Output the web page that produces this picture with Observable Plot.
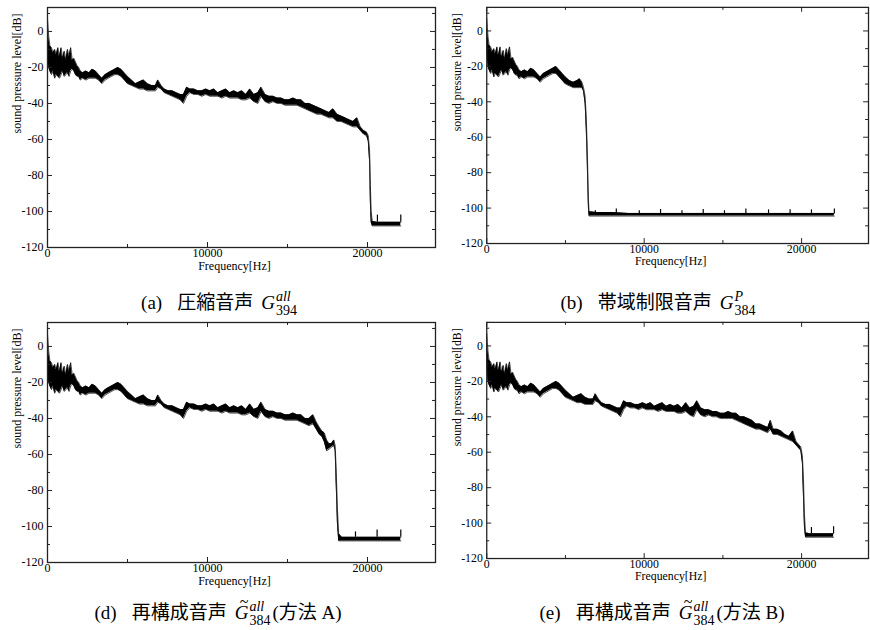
<!DOCTYPE html>
<html><head><meta charset="utf-8">
<script src="https://cdn.jsdelivr.net/npm/d3@7"></script>
<script src="https://cdn.jsdelivr.net/npm/@observablehq/plot@0.6"></script>
<style>
html,body{margin:0;padding:0;background:#fff;}
body{width:870px;height:630px;overflow:hidden;position:relative;}
.panel{position:absolute;}
.cap{position:absolute;font-family:"Liberation Serif","Noto Sans CJK JP",serif;font-size:19px;line-height:22px;white-space:nowrap;transform:translateX(-50%);color:#000;}
.jp{font-family:"Noto Sans CJK JP",sans-serif;font-size:19px;}
.g1{margin-left:15px;}
.g2{margin-left:8px;}
.ss{display:inline-block;vertical-align:-6px;font-size:14px;line-height:14px;margin-left:1px;margin-right:2px;}
.ss>span{display:block;}
.tl{position:relative;display:inline-block;}
.tl::after{content:"~";position:absolute;left:5px;top:-11px;font-size:16px;font-style:normal;}
</style>
</head><body>
<div id="pa" class="panel" style="left:0px;top:0px"></div>
<div id="pb" class="panel" style="left:440px;top:0px"></div>
<div id="pd" class="panel" style="left:0px;top:315px"></div>
<div id="pe" class="panel" style="left:440px;top:315px"></div>
<div class="cap" style="left:220px;top:290px">(a)<span class="jp g1">圧縮音声</span><i class="g2">G</i><span class="ss"><span><i>all</i></span><span>394</span></span></div>
<div class="cap" style="left:659px;top:290px">(b)<span class="jp g1">帯域制限音声</span><i class="g2">G</i><span class="ss"><span><i>P</i></span><span>384</span></span></div>
<div class="cap" style="left:218px;top:600px">(d)<span class="jp g1">再構成音声</span><span class="tl g2"><i>G</i></span><span class="ss"><span><i>all</i></span><span>384</span></span>(<span class="jp">方法</span> A)</div>
<div class="cap" style="left:662px;top:600px">(e)<span class="jp g1">再構成音声</span><span class="tl g2"><i>G</i></span><span class="ss"><span><i>all</i></span><span>384</span></span>(<span class="jp">方法</span> B)</div>
<script>
// ---- shared low-frequency part (all panels), Hz and dB envelopes ----
const freqLow = [0, 40, 80, 150, 250, 350, 450, 550, 650, 750, 850, 950, 1050, 1150, 1250, 1350, 1450, 1550, 1650, 1750, 1850, 1950, 2050, 2200, 2400, 2600, 2800, 3000, 3200, 3400, 3600, 3800, 4000, 4200, 4400];
const hiLow = [7, 2, -3, -8, -9, -12, -10, -13, -9, -14, -9, -15, -11, -16, -10, -14, -9, -16, -15, -17, -19, -20, -22, -23, -22, -23, -21, -22, -24, -26, -24, -23, -22, -21, -20];
const loLow = [-2, -15, -20, -22, -24, -22, -26, -24, -25, -26, -24, -22, -25, -24, -23, -25, -22, -21, -22, -24, -25, -25, -27, -26, -27, -26, -26, -26, -27, -29, -27, -26, -25, -24, -24];

// ---- mid part shared by (a), (d), (e) ----
const freqMid = [4600, 4800, 5000, 5250, 5500, 5750, 6000, 6250, 6500, 6750, 6900, 7100, 7300, 7550, 7800, 8050, 8300, 8500, 8700, 8900, 9150, 9400, 9650, 9900, 10150, 10400, 10650, 10900, 11150, 11400, 11650, 11900, 12150, 12400, 12650, 12900, 13150, 13350, 13600, 13850, 14100, 14350, 14600, 14850, 15100, 15350, 15600, 15850, 16100, 16350];
const hiMid = [-21, -23, -25, -27, -29, -28, -27, -29, -30, -30, -27, -30, -32, -33, -33, -34, -35, -35, -31, -32, -32, -33, -33, -32, -33, -32, -34, -33, -32, -34, -33, -34, -33, -35, -32, -35, -34, -31, -35, -36, -36, -37, -37, -38, -38, -37, -38, -38, -40, -40];
const loMid = [-25, -27, -29, -30, -31, -32, -32, -33, -33, -33, -31, -32, -34, -35, -36, -37, -38, -40, -36, -34, -35, -35, -36, -35, -36, -36, -36, -37, -36, -37, -37, -37, -38, -38, -37, -39, -40, -36, -39, -40, -39, -40, -40, -41, -41, -41, -41, -42, -43, -44];

// ---- (a) tail ----
const freqTailA = [16600, 16850, 17100, 17350, 17600, 17850, 18100, 18350, 18600, 18850, 19100, 19350, 19550, 19750, 19950, 20050, 20130, 20180, 20230, 20300, 20600, 21000, 21400, 21800, 22080];
const hiTailA = [-41, -42, -43, -44, -45, -43, -46, -47, -48, -49, -50, -48, -53, -55, -56, -58, -66, -85, -100, -105.5, -106, -106, -106, -106, -106];
const loTailA = [-45, -46, -46, -47, -48, -48, -50, -50, -51, -52, -53, -53, -55, -57, -58, -61, -72, -95, -106, -108, -108, -108, -108, -108, -108];
const spikeFreqA = [20620, 22080];
const spikeTopA = [-102, -102];
const floorA = -106;

// ---- (b) tail ----
const freqTailB = [4600, 4800, 5000, 5250, 5500, 5750, 5900, 6050, 6150, 6250, 6320, 6380, 6420, 6460, 6500, 7000, 8000, 9000, 10000, 11000, 12000, 13000, 14000, 15000, 16000, 17000, 18000, 19000, 20000, 21000, 22080];
const hiTailB = [-22, -24, -26, -28, -29, -28, -27, -29, -32, -37, -48, -65, -80, -95, -102, -102.5, -102.5, -103, -103, -103, -103, -103, -103, -103, -103, -103, -103, -103, -103, -103, -103];
const loTailB = [-26, -28, -30, -31, -32, -32, -32, -32, -34, -41, -55, -72, -88, -100, -104.5, -104.5, -104.5, -104.5, -104.5, -104.5, -104.5, -104.5, -104.5, -104.5, -104.5, -104.5, -104.5, -104.5, -104.5, -104.5, -104.5];
const spikeFreqB = [6900, 8230, 9690, 11040, 12400, 13750, 15100, 16460, 17900, 19270, 20625, 22080];
const spikeTopB = [-101.5, -100.5, -101.5, -100.8, -101.5, -100.8, -101.5, -100.5, -101, -101, -101, -100.5];
const floorB = -103;

// ---- (d) tail ----
const freqTailD = [16600, 16800, 17000, 17150, 17300, 17450, 17600, 17750, 17900, 17980, 18050, 18120, 18200, 18400, 19000, 19600, 20200, 20800, 21400, 22080];
const hiTailD = [-38, -42, -45, -47, -48, -52, -54, -54, -52, -55, -70, -90, -104, -106, -106, -106, -106, -106, -106, -106];
const loTailD = [-43, -46, -49, -50, -53, -58, -57, -56, -55, -58, -78, -98, -108, -108, -108, -108, -108, -108, -108, -108];
const spikeFreqD = [19250, 20600, 22080];
const spikeTopD = [-103, -102, -102];
const floorD = -106;

// ---- (e) tail ----
const freqTailE = [16600, 16850, 17100, 17350, 17600, 17850, 18020, 18200, 18450, 18700, 18950, 19200, 19440, 19650, 19850, 19950, 20050, 20120, 20180, 20250, 20500, 21000, 21500, 22030];
const hiTailE = [-41, -42, -44, -44, -45, -46, -42, -47, -47, -48, -50, -51, -48, -54, -56, -57, -62, -75, -95, -105.5, -106, -106, -106, -106];
const loTailE = [-45, -46, -47, -47, -48, -49, -47, -50, -50, -51, -52, -53, -54, -56, -58, -59, -66, -85, -102, -108, -108, -108, -108, -108];
const spikeFreqE = [20625, 22030];
const spikeTopE = [-102.5, -102];
const floorE = -106;

// ---- axes ----
const yTickLabels = [-120, -100, -80, -60, -40, -20, 0];
const yMinorTicks = [-110, -90, -70, -50, -30, -10, 10];
const xTickLabels = [0, 10000, 20000];
const xMinorTicks = [5000, 15000];
const xLabel = "Frequency[Hz]";
const yLabel = "sound pressure level[dB]";

function bandRows(fs, his, los) { return fs.map((f, i) => ({f, hi: his[i], lo: los[i]})); }
function spikeRows(fs, tops, floor) { return fs.map((f, i) => ({f, top: tops[i], base: floor})); }

function panel(fs, his, los, spikes) {
  const W = 437, H = 280, mL = 47, mR = 2, mT = 7, mB = 33;
  const fw = W - mL - mR, fh = H - mT - mB;
  const band = bandRows(fs, his, los);
  return Plot.plot({
    width: W, height: H, marginLeft: mL, marginRight: mR, marginTop: mT, marginBottom: mB,
    style: {background: "transparent", fontFamily: "'Liberation Serif', serif", fontSize: "12px", color: "#000"},
    x: {domain: [0, 24250]},
    y: {domain: [-120, 13.3]},
    marks: [
      Plot.areaY(band, {x: "f", y1: "lo", y2: "hi", fill: "#000"}),
      Plot.line(band, {x: "f", y: "hi", stroke: "#000", strokeWidth: 0.7}),
      Plot.line(band, {x: "f", y: "lo", stroke: "#000", strokeWidth: 0.7}),
      Plot.ruleX(spikes, {x: "f", y1: "base", y2: "top", stroke: "#000", strokeWidth: 1.2}),
      Plot.frame({stroke: "#222", strokeWidth: 1.3}),
      Plot.tickY(yTickLabels, {y: d => d, insetRight: fw - 5, stroke: "#222"}),
      Plot.tickY(yMinorTicks, {y: d => d, insetRight: fw - 3, stroke: "#222"}),
      Plot.tickY(yTickLabels, {y: d => d, insetLeft: fw - 5, stroke: "#222"}),
      Plot.tickY(yMinorTicks, {y: d => d, insetLeft: fw - 3, stroke: "#222"}),
      Plot.tickX(xTickLabels, {x: d => d, insetBottom: fh - 5, stroke: "#222"}),
      Plot.tickX(xMinorTicks, {x: d => d, insetBottom: fh - 3, stroke: "#222"}),
      Plot.tickX(xTickLabels, {x: d => d, insetTop: fh - 5, stroke: "#222"}),
      Plot.tickX(xMinorTicks, {x: d => d, insetTop: fh - 3, stroke: "#222"}),
      Plot.axisY(yTickLabels, {tickSize: 0, tickPadding: 4, tickFormat: d => String(d), label: null}),
      Plot.axisX(xTickLabels, {tickSize: 0, tickPadding: 1, tickFormat: d => String(d), label: null}),
      Plot.text([xLabel], {frameAnchor: "bottom", dx: -7, dy: 22, text: d => d, fontSize: 12}),
      Plot.text([yLabel], {frameAnchor: "left", dx: -30, dy: 6, rotate: -90, text: d => d, fontSize: 12})
    ]
  });
}

document.getElementById("pa").append(panel(freqLow.concat(freqMid, freqTailA), hiLow.concat(hiMid, hiTailA), loLow.concat(loMid, loTailA), spikeRows(spikeFreqA, spikeTopA, floorA)));
document.getElementById("pb").append(panel(freqLow.concat(freqTailB), hiLow.concat(hiTailB), loLow.concat(loTailB), spikeRows(spikeFreqB, spikeTopB, floorB)));
document.getElementById("pd").append(panel(freqLow.concat(freqMid, freqTailD), hiLow.concat(hiMid, hiTailD), loLow.concat(loMid, loTailD), spikeRows(spikeFreqD, spikeTopD, floorD)));
document.getElementById("pe").append(panel(freqLow.concat(freqMid, freqTailE), hiLow.concat(hiMid, hiTailE), loLow.concat(loMid, loTailE), spikeRows(spikeFreqE, spikeTopE, floorE)));
</script>
</body></html>
